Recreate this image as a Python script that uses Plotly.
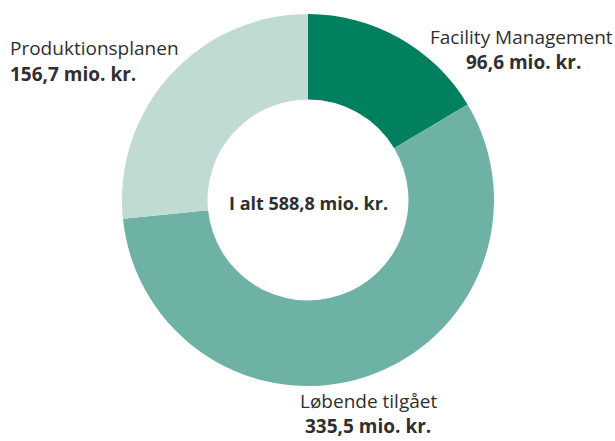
import plotly.graph_objects as go

labels = ["Facility Management", "Løbende tilgået", "Produktionsplanen"]
values = [96.6, 335.5, 156.7]
value_text = ["96,6 mio. kr.", "335,5 mio. kr.", "156,7 mio. kr."]
total_text = "I alt 588,8 mio. kr."
colors = ["#00805f", "#6db2a5", "#c0dbd3"]

W, H = 615, 441
cx, cy, r = 308, 200, 186

fig = go.Figure(go.Pie(
    labels=labels, values=values, sort=False, direction="clockwise", rotation=0,
    hole=0.54, marker=dict(colors=colors, line=dict(width=0)),
    textinfo="none", hoverinfo="label+value", showlegend=False,
    domain=dict(x=[(cx - r) / W, (cx + r) / W], y=[(H - cy - r) / H, (H - cy + r) / H]),
))

FONT = "Open Sans"
TXT = "#2f2f2f"

def ann(text, x, y, anchor="center", bold=False, size=19, yanchor="middle"):
    fig.add_annotation(
        text=f"<b>{text}</b>" if bold else text,
        x=x / W, y=1 - y / H, xref="paper", yref="paper",
        xanchor=anchor, yanchor=yanchor, showarrow=False,
        font=dict(family=FONT, size=size, color=TXT),
    )

# label positions (pixels)
ann(labels[0], 521, 37)
ann(value_text[0], 523, 62, bold=True)
ann(labels[1], 368, 415.5, yanchor="bottom")
ann(value_text[1], 368, 441, bold=True, yanchor="bottom")
ann(labels[2], 8, 48, anchor="left")
ann(value_text[2], 8, 74, anchor="left", bold=True)
ann(total_text, cx, 203, bold=True, size=18)

fig.update_layout(
    width=W, height=H, margin=dict(l=0, r=0, t=0, b=0),
    paper_bgcolor="white", plot_bgcolor="white",
)
fig.write_html("out.html", config={"displayModeBar": False},
               post_script="document.body.style.margin='0';")
